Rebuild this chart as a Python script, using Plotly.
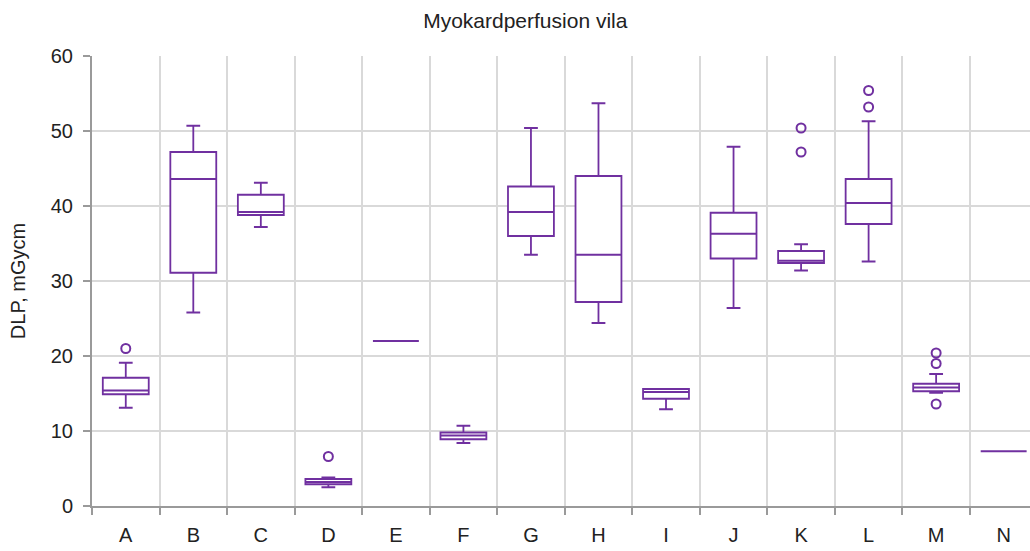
import plotly.graph_objects as go

categories = ["A", "B", "C", "D", "E", "F", "G", "H", "I", "J", "K", "L", "M", "N"]
lower_fence = [13.1, 25.8, 37.2, 2.5, 22.0, 8.4, 33.5, 24.4, 12.9, 26.4, 31.4, 32.6, 15.1, 7.3]
q1_vals     = [14.9, 31.1, 38.8, 2.9, 22.0, 8.9, 36.0, 27.2, 14.3, 33.0, 32.4, 37.6, 15.3, 7.3]
median_vals = [15.4, 43.6, 39.2, 3.2, 22.0, 9.4, 39.2, 33.5, 15.2, 36.3, 32.7, 40.4, 15.8, 7.3]
q3_vals     = [17.1, 47.2, 41.5, 3.6, 22.0, 9.8, 42.6, 44.0, 15.6, 39.1, 34.0, 43.6, 16.3, 7.3]
upper_fence = [19.1, 50.7, 43.1, 3.8, 22.0, 10.7, 50.4, 53.7, 15.6, 47.9, 34.9, 51.3, 17.6, 7.3]

outlier_cats = ["A", "D", "K", "K", "L", "L", "M", "M", "M"]
outlier_vals = [21.0, 6.6, 50.4, 47.2, 55.4, 53.2, 20.4, 19.0, 13.6]

title_text = "Myokardperfusion vila"
y_title = "DLP, mGycm"
y_ticks = [0, 10, 20, 30, 40, 50, 60]

purple = "#7030A0"
axis_gray = "#9a9a9a"
grid_gray = "#d9d9d9"
font_family = "Liberation Sans, Arial, sans-serif"

fig = go.Figure()
fig.add_trace(go.Box(
    x=categories,
    q1=q1_vals, median=median_vals, q3=q3_vals,
    lowerfence=lower_fence, upperfence=upper_fence,
    boxpoints=False,
    fillcolor="white",
    line=dict(color=purple, width=1.8),
    width=0.68,
    whiskerwidth=0.3,
    showlegend=False,
    hoverinfo="skip",
))
fig.add_trace(go.Scatter(
    x=outlier_cats, y=outlier_vals,
    mode="markers",
    marker=dict(symbol="circle-open", size=9, color=purple, line=dict(width=2, color=purple)),
    showlegend=False,
    hoverinfo="skip",
))

fig.update_layout(
    width=1030, height=551,
    margin=dict(l=92, r=0, t=56, b=45),
    paper_bgcolor="white", plot_bgcolor="white",
    font=dict(family=font_family, size=18, color="#222"),
    title=dict(text=title_text, x=0.51, xref="container", xanchor="center",
               y=0.963, yref="container", yanchor="middle",
               font=dict(size=21, color="#222")),
)
fig.update_xaxes(
    type="category",
    categoryorder="array", categoryarray=categories,
    range=[-0.5, 13.39],
    tickson="boundaries",
    showgrid=True, gridcolor=grid_gray, gridwidth=1.5,
    showline=True, linecolor=axis_gray, linewidth=2,
    ticks="outside", ticklen=7, tickcolor=axis_gray, tickwidth=2,
    tickfont=dict(size=20, color="#222"),
    ticklabelstandoff=10,
    zeroline=False,
)
fig.update_yaxes(
    range=[0, 60],
    tickvals=y_ticks,
    showgrid=True, gridcolor=grid_gray, gridwidth=1.5,
    showline=True, linecolor=axis_gray, linewidth=2,
    ticks="outside", ticklen=7, tickcolor=axis_gray, tickwidth=2,
    tickfont=dict(size=20, color="#222"),
    ticklabelstandoff=6,
    title=dict(text=y_title, font=dict(size=20, color="#222"), standoff=20),
    zeroline=False,
)

fig.write_html("out.html")
